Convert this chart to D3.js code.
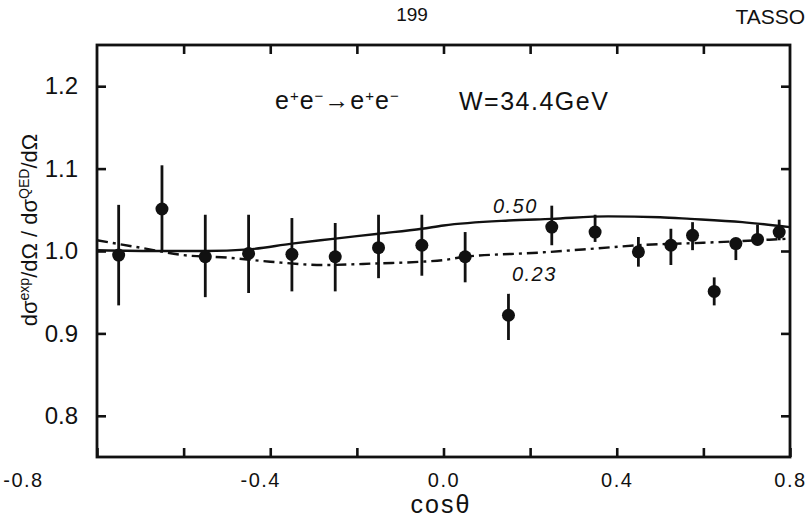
<!DOCTYPE html>
<html><head><meta charset="utf-8">
<script src="https://cdn.jsdelivr.net/npm/d3@7/dist/d3.min.js"></script>
<style>body{margin:0;background:#fff}svg{display:block}text{fill:#111}</style>
</head><body><svg id="c" width="811" height="518"></svg>
<script>
// ---- data ----
const cosTheta = [-0.75,-0.65,-0.55,-0.45,-0.35,-0.25,-0.15,-0.05,0.05,0.15,0.25,0.35,0.45,0.525,0.575,0.625,0.675,0.725,0.775];
const ratio    = [0.995,1.051,0.993,0.997,0.996,0.993,1.004,1.007,0.993,0.922,1.029,1.023,0.999,1.007,1.019,0.951,1.009,1.014,1.023];
const errLow   = [0.934,1.000,0.944,0.949,0.951,0.951,0.967,0.970,0.962,0.892,1.007,1.011,0.981,0.983,1.001,0.934,0.989,1.007,1.013];
const errHigh  = [1.056,1.104,1.044,1.044,1.040,1.034,1.044,1.044,1.023,0.948,1.055,1.044,1.017,1.027,1.035,0.968,1.015,1.032,1.038];
const curve050X = [-0.8,-0.65,-0.55,-0.45,-0.35,-0.25,-0.15,-0.05,0.0,0.15,0.25,0.38,0.5,0.57,0.69,0.8];
const curve050Y = [1.001,1.000,1.000,1.002,1.009,1.015,1.021,1.027,1.031,1.037,1.039,1.042,1.041,1.039,1.035,1.029];
const curve023X = [-0.8,-0.7,-0.6,-0.5,-0.4,-0.28,-0.15,-0.05,0.0,0.05,0.22,0.35,0.45,0.6,0.8];
const curve023Y = [1.013,1.004,0.995,0.992,0.987,0.983,0.985,0.987,0.989,0.993,0.998,1.003,1.007,1.010,1.015];
const xTicks = [-0.8,-0.6,-0.4,-0.2,0.0,0.2,0.4,0.6,0.8];
const xTickLabels = ["-0.8","","-0.4","","0.0","","0.4","","0.8"];
const yTicks = [0.8,0.9,1.0,1.1,1.2];
const yTickLabels = ["0.8","0.9","1.0","1.1","1.2"];

// ---- layout ----
const L=97,R=790,T=45,B=457;
const svg=d3.select("#c");
const x=d3.scaleLinear().domain([-0.8,0.8]).range([L,R]);
const y=d3.scaleLinear().domain([0.75,1.25]).range([B,T]);
const font="'Liberation Sans', Arial, sans-serif";

// frame
svg.append("rect").attr("x",L).attr("y",T).attr("width",R-L).attr("height",B-T)
  .attr("fill","none").attr("stroke","#111").attr("stroke-width",2.8);

const styleAxis=g=>{g.select(".domain").remove();g.selectAll(".tick line").attr("stroke","#111").attr("stroke-width",2.6);
  g.selectAll("text").attr("font-family",font).attr("fill","#111");};

const xLabelShift=[-74,0,-10,0,0,0,0,0,0];
svg.append("g").attr("transform",`translate(0,${B})`)
  .call(d3.axisBottom(x).tickValues(xTicks).tickSize(-9).tickPadding(16).tickFormat((d,i)=>xTickLabels[i]))
  .call(styleAxis).call(g=>g.selectAll("text").attr("font-size",20).attr("letter-spacing",1.5)
     .attr("dx",(d,i)=>xLabelShift[i]));
svg.append("g").attr("transform",`translate(0,${T})`)
  .call(d3.axisTop(x).tickValues(xTicks.slice(1,-1)).tickSize(-9).tickFormat(""))
  .call(styleAxis);
svg.append("g").attr("transform",`translate(${L},0)`)
  .call(d3.axisLeft(y).tickValues(yTicks).tickSize(-9).tickPadding(19).tickFormat((d,i)=>yTickLabels[i]))
  .call(styleAxis).call(g=>g.selectAll("text").attr("font-size",24));
svg.append("g").attr("transform",`translate(${R},0)`)
  .call(d3.axisRight(y).tickValues(yTicks).tickSize(-9).tickFormat(""))
  .call(styleAxis);

// curves
const line=d3.line().x(d=>x(d[0])).y(d=>y(d[1])).curve(d3.curveMonotoneX);
svg.append("path").attr("d",line(curve050X.map((v,i)=>[v,curve050Y[i]])))
  .attr("fill","none").attr("stroke","#111").attr("stroke-width",2.4);
svg.append("path").attr("d",line(curve023X.map((v,i)=>[v,curve023Y[i]])))
  .attr("fill","none").attr("stroke","#111").attr("stroke-width",2.4).attr("stroke-dasharray","11,5,3,5");

// error bars & points
const pts=cosTheta.map((c,i)=>({c,v:ratio[i],lo:errLow[i],hi:errHigh[i]}));
svg.append("g").selectAll("line").data(pts).join("line")
  .attr("x1",d=>x(d.c)).attr("x2",d=>x(d.c)).attr("y1",d=>y(d.lo)).attr("y2",d=>y(d.hi))
  .attr("stroke","#111").attr("stroke-width",2.8);
svg.append("g").selectAll("circle").data(pts).join("circle")
  .attr("cx",d=>x(d.c)).attr("cy",d=>y(d.v)).attr("r",6.5).attr("fill","#111");

// curve labels
svg.append("text").attr("x",x(0.114)).attr("y",y(1.037)-8).attr("font-family",font).attr("font-size",20)
  .attr("font-style","italic").attr("letter-spacing",1.5).text("0.50");
svg.append("text").attr("x",x(0.158)).attr("y",y(0.998)+28).attr("font-family",font).attr("font-size",20)
  .attr("font-style","italic").attr("letter-spacing",1.5).text("0.23");

// annotations
const ann=svg.append("text").attr("x",275).attr("y",109).attr("font-family",font).attr("font-size",25).attr("letter-spacing",1);
ann.append("tspan").text("e");
ann.append("tspan").attr("baseline-shift","super").attr("font-size",15).text("+");
ann.append("tspan").text("e");
ann.append("tspan").attr("baseline-shift","super").attr("font-size",15).text("−");
ann.append("tspan").text("→e");
ann.append("tspan").attr("baseline-shift","super").attr("font-size",15).text("+");
ann.append("tspan").text("e");
ann.append("tspan").attr("baseline-shift","super").attr("font-size",15).text("−");
svg.append("text").attr("x",459).attr("y",110).attr("font-family",font).attr("font-size",25).attr("letter-spacing",1.5).text("W=34.4GeV");

// header
svg.append("text").attr("x",412).attr("y",21).attr("text-anchor","middle").attr("font-family",font).attr("font-size",19).text("199");
svg.append("text").attr("x",805).attr("y",24).attr("text-anchor","end").attr("font-family",font).attr("font-size",21).text("TASSO");

// axis titles
svg.append("text").attr("x",441).attr("y",513).attr("text-anchor","middle").attr("font-family",font).attr("font-size",25).attr("letter-spacing",2).text("cosθ");
const yt=svg.append("text").attr("transform","translate(37,230) rotate(-90)").attr("text-anchor","middle")
  .attr("font-family",font).attr("font-size",22);
yt.append("tspan").text("dσ");
yt.append("tspan").attr("baseline-shift","super").attr("font-size",14).text("exp");
yt.append("tspan").text("/dΩ / dσ");
yt.append("tspan").attr("baseline-shift","super").attr("font-size",14).text("QED");
yt.append("tspan").text("/dΩ");
</script></body></html>
